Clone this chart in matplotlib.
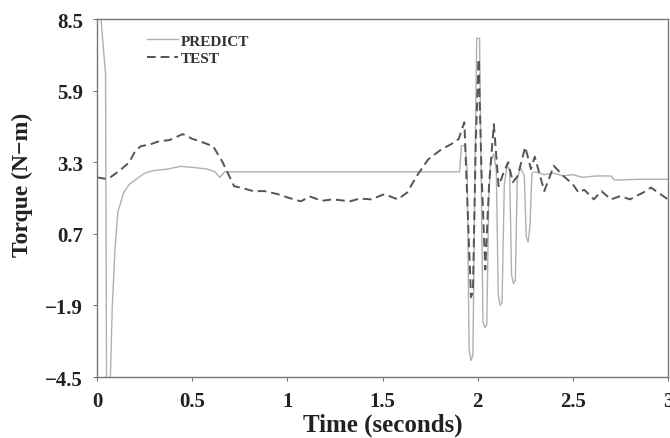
import matplotlib
matplotlib.use("Agg")
import matplotlib.pyplot as plt

# ---- data ----
predict_t = [0.0, 0.015, 0.045, 0.05, 0.07, 0.08, 0.095, 0.11, 0.14, 0.17, 0.21,
             0.25, 0.30, 0.37, 0.44, 0.52, 0.58, 0.62, 0.645, 0.67, 0.70, 0.9,
             1.2, 1.5, 1.8, 1.905, 1.915, 1.935, 1.945, 1.955, 1.965, 1.975,
             1.985, 1.995, 2.010, 2.018, 2.028, 2.038, 2.048, 2.058, 2.068,
             2.085, 2.098, 2.108, 2.118, 2.128, 2.14, 2.155, 2.168, 2.178,
             2.188, 2.198, 2.208, 2.225, 2.245, 2.255, 2.265, 2.275, 2.285,
             2.30, 2.35, 2.40, 2.45, 2.50, 2.55, 2.62, 2.70, 2.72, 2.85, 3.0]
predict_v = [9.5, 9.0, 6.5, -4.6, -4.6, -2.0, 0.2, 1.5, 2.2, 2.5, 2.7,
             2.9, 3.0, 3.05, 3.15, 3.1, 3.05, 2.95, 2.75, 2.95, 2.95, 2.95,
             2.95, 2.95, 2.95, 2.95, 3.9, 3.9, 3.0, -3.5, -3.9, -3.7,
             2.5, 7.8, 7.8, 3.0, -2.5, -2.7, -2.6, 2.0, 3.3,
             3.6, 3.0, -1.5, -1.9, -1.8, 2.5, 3.2, 3.0, -0.8,
             -1.1, -1.0, 2.7, 3.1, 2.8, 0.6, 0.4, 1.0, 2.9,
             2.95, 2.85, 2.9, 2.8, 2.85, 2.75, 2.8, 2.8, 2.65, 2.68, 2.68]

test_t = [0.0, 0.04, 0.07, 0.12, 0.17, 0.20, 0.23, 0.28, 0.33, 0.38, 0.45,
          0.50, 0.54, 0.61, 0.66, 0.72, 0.77, 0.82, 0.88, 0.95, 1.01, 1.07,
          1.12, 1.18, 1.24, 1.33, 1.38, 1.44, 1.51, 1.58, 1.63, 1.68, 1.74,
          1.81, 1.86, 1.90, 1.93, 1.945, 1.965, 1.975, 1.99, 2.005, 2.02,
          2.04, 2.06, 2.085, 2.11, 2.135, 2.16, 2.185, 2.21, 2.25, 2.28,
          2.30, 2.35, 2.40, 2.45, 2.50, 2.53, 2.56, 2.61, 2.65, 2.70, 2.75,
          2.80, 2.87, 2.91, 2.96, 3.0]
test_v = [2.75, 2.7, 2.75, 3.0, 3.3, 3.7, 3.88, 3.95, 4.07, 4.1, 4.32,
          4.15, 4.06, 3.88, 3.3, 2.43, 2.35, 2.25, 2.25, 2.14, 2.0, 1.88,
          2.05, 1.9, 1.95, 1.88, 1.98, 1.95, 2.14, 1.95, 2.2, 2.8, 3.4,
          3.77, 3.95, 4.14, 4.75, 2.0, -1.6, -1.4, 4.0, 7.05, 3.0,
          -0.6, 2.5, 4.68, 2.43, 2.9, 3.3, 2.57, 2.8, 3.85, 3.05,
          3.5, 2.25, 3.17, 2.8, 2.5, 2.2, 2.3, 1.95, 2.25, 1.95, 2.07,
          1.95, 2.2, 2.38, 2.14, 1.95]

x_ticks = [0, 0.5, 1, 1.5, 2, 2.5, 3]
x_ticklabels = ["0", "0.5", "1", "1.5", "2", "2.5", "3"]
y_ticks = [-4.5, -1.9, 0.7, 3.3, 5.9, 8.5]
y_ticklabels = ["\u22124.5", "\u22121.9", "0.7", "3.3", "5.9", "8.5"]

# ---- figure ----
plt.rcParams['font.family'] = ['Liberation Serif', 'DejaVu Serif']
plt.rcParams['font.weight'] = 'bold'

fig = plt.figure(figsize=(6.70, 4.39), dpi=100)
ax = fig.add_axes([97/670, 1 - 378/439, 571/670, 358/439])

ax.plot(predict_t, predict_v, color='#b0b0b0', lw=1.0, label='PREDICT')
ax.plot(test_t, test_v, color='#555555', lw=1.4, dashes=(4.5, 2.5), label='TEST')

ax.set_xlim(0, 3)
ax.set_ylim(-4.5, 8.5)
ax.set_xticks(x_ticks)
ax.set_xticklabels(x_ticklabels, fontsize=15, fontweight='bold', color='#222222')
ax.set_yticks(y_ticks)
ax.set_yticklabels(y_ticklabels, fontsize=15, fontweight='bold', color='#222222')
ax.tick_params(axis='x', direction='out', length=3, width=0.8, color='#777777', pad=7)
ax.tick_params(axis='y', direction='out', length=3, width=0.8, color='#777777', pad=7)

for s in ax.spines.values():
    s.set_color('#777777')
    s.set_linewidth(1.0)

ax.set_xlabel('Time (seconds)', fontsize=18, fontweight='bold', color='#222222')
ax.xaxis.set_label_coords(0.5, 1 - (425 - 20) / 358)
ax.xaxis.label.set_va('center')
ax.set_ylabel('Torque (N\u2212m)', fontsize=17, fontweight='bold', color='#222222')
ax.yaxis.set_label_coords((22 - 97) / 571, 1 - (185 - 20) / 358)
ax.yaxis.label.set_va('center')

leg = ax.legend(loc='upper left', bbox_to_anchor=(50/571, 1 - 15/358), frameon=False,
                borderaxespad=0, borderpad=0, handlelength=2.0, handletextpad=0.2,
                labelspacing=0.25, prop={'family': 'Liberation Serif', 'weight': 'bold', 'size': 11})
for t in leg.get_texts():
    t.set_color('#333333')

fig.savefig('out.png', dpi=100)
